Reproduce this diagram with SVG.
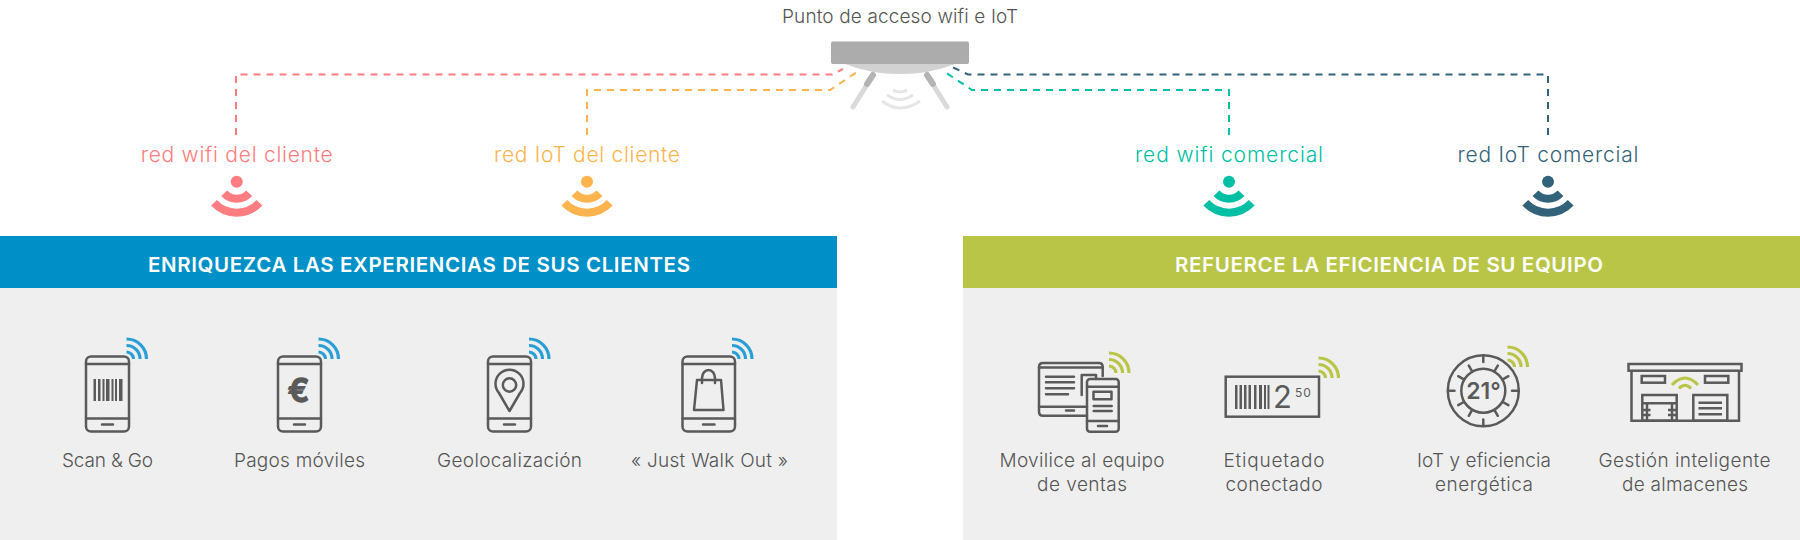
<svg xmlns="http://www.w3.org/2000/svg" width="1800" height="540" viewBox="0 0 1800 540">
<style>
text{font-family:Inter,"Open Sans","Liberation Sans",sans-serif;text-anchor:middle}
.l{font-size:19px;font-weight:300;fill:#555}
.n{font-size:21px;font-weight:300}
.h{font-size:20.500px;font-weight:600;fill:#fff}
.i{fill:none;stroke:#5a5a5a;stroke-width:2.5;stroke-linecap:round;stroke-linejoin:round}
.b{fill:none;stroke:#5a5a5a;stroke-width:2.5}
.d{fill:none;stroke-width:2;stroke-dasharray:7 6}
.wb{fill:none;stroke:#2a9fd6;stroke-width:3.200}
.wg{fill:none;stroke:#b9c547;stroke-width:3.200}
.ws{fill:none;stroke-width:8}
.g{fill:#5a5a5a;font-weight:600}
</style>
<defs>
<g id="phone">
<rect x="-21.5" y="-37" width="43" height="75" rx="5" class="i"/>
<path d="M-21.5-29.5H21.5M-21.5 25H21.5M-5.5 31H5.5" class="i"/>
</g>
<g id="wifi"><path d="M0-20A20 20 0 0 1 20 0M0-13.500A13.500 13.500 0 0 1 13.500 0M0-7A7 7 0 0 1 7 0"/></g>
<g id="sig">
<circle cx="0" cy="0" r="6"/>
<path class="ws" d="M-12.500 11.600A17 17 0 0 0 12.500 11.600M-22.700 21.100A31 31 0 0 0 22.700 21.100" style="stroke:inherit"/>
</g>
</defs>

<rect x="0" y="236" width="837" height="52" fill="#0090c8"/>
<rect x="0" y="288" width="837" height="252" fill="#efefef"/>
<rect x="963" y="236" width="837" height="52" fill="#b9c547"/>
<rect x="963" y="288" width="837" height="252" fill="#efefef"/>

<g id="connectors">
<path class="d" stroke="#ff7d80" d="M236 135V74.500H832L843 69"/>
<path class="d" stroke="#fdb44e" d="M587 135V90H830L860 70"/>
<path class="d" stroke="#00bfa5" d="M1229 135V90H972L942 70"/>
<path class="d" stroke="#33637a" d="M1548 135V74.500H968L952 67"/>
</g>

<g id="ap">
<text class="l" x="900" y="23" textLength="236">Punto de acceso wifi e IoT</text>
<path d="M845 64H955Q930 74 900 74T845 64Z" fill="#d2d2d2"/>
<rect x="831" y="41.500" width="138" height="22.500" rx="2" fill="#acacac"/>
<path d="M873 75L853 107M927 75L947 107" stroke="#dadada" stroke-width="5" stroke-linecap="round" fill="none"/>
<path d="M873 75L867 84M927 75L933 84" stroke="#b4b4b4" stroke-width="6" stroke-linecap="round" fill="none"/>
<path d="M893 90Q900 94 907 90M887 95Q900 104 913 95M882 101Q900 115 920 101" fill="none" stroke="#e6e6e6" stroke-width="3"/>
</g>

<g id="net-wifi-cliente" fill="#ff7d80" stroke="#ff7d80">
<text class="n" x="236.700" y="161.500" textLength="192" stroke="none">red wifi del cliente</text>
<use href="#sig" x="236.700" y="181.700" stroke-width="0"/>
</g>
<g id="net-iot-cliente" fill="#fdb44e" stroke="#fdb44e">
<text class="n" x="587" y="161.500" textLength="186" stroke="none">red IoT del cliente</text>
<use href="#sig" x="587" y="181.700" stroke-width="0"/>
</g>
<g id="net-wifi-comercial" fill="#00bfa5" stroke="#00bfa5">
<text class="n" x="1229" y="161.500" textLength="188" stroke="none">red wifi comercial</text>
<use href="#sig" x="1229" y="181.700" stroke-width="0"/>
</g>
<g id="net-iot-comercial" fill="#33637a" stroke="#33637a">
<text class="n" x="1548" y="161.500" textLength="181" stroke="none">red IoT comercial</text>
<use href="#sig" x="1548" y="181.700" stroke-width="0"/>
</g>

<g id="hdr-left"><text class="h" x="419" y="272" textLength="542">ENRIQUEZCA LAS EXPERIENCIAS DE SUS CLIENTES</text></g>
<g id="hdr-right"><text class="h" x="1389" y="272" textLength="428">REFUERCE LA EFICIENCIA DE SU EQUIPO</text></g>

<g id="scan">
<use href="#phone" x="107.500" y="393.500"/>
<use href="#wifi" class="wb" x="126.500" y="359"/>
<g fill="#5a5a5a"><rect x="93.500" y="379" width="2.500" height="22"/><rect x="98" y="379" width="2.500" height="22"/><rect x="102.500" y="379" width="2" height="22"/><rect x="106" y="379" width="3.500" height="22"/><rect x="111.500" y="379" width="2" height="22"/><rect x="115" y="379" width="2" height="22"/><rect x="119" y="379" width="3.500" height="22"/></g>
<text class="l" x="107.500" y="466.500" textLength="91">Scan &amp; Go</text>
</g>
<g id="pagos">
<use href="#phone" x="299.500" y="393.500"/>
<use href="#wifi" class="wb" x="318.500" y="359"/>
<text class="g" x="298.500" y="402" font-size="32" stroke="#5a5a5a" stroke-width="1.300">€</text>
<text class="l" x="299.500" y="466.500" textLength="131">Pagos móviles</text>
</g>
<g id="geo">
<use href="#phone" x="509.500" y="393.500"/>
<use href="#wifi" class="wb" x="529" y="359"/>
<path class="i" d="M509.500 411L499 393A14 14 0 1 1 520 393Z"/>
<circle class="i" cx="509.500" cy="385" r="6.700"/>
<text class="l" x="509.500" y="466.500" textLength="145">Geolocalización</text>
</g>
<g id="walk">
<rect x="682.500" y="356.500" width="52.500" height="75" rx="5" class="i"/>
<path d="M682.500 364H735M682.500 418.500H735M703 424.500H714.500" class="i"/>
<use href="#wifi" class="wb" x="732" y="359"/>
<path class="i" d="M697 380H721L723.500 410H694ZM702 383V378A6.500 8 0 0 1 715 378V383"/>
<text class="l" x="709.500" y="466.500" textLength="157">« Just Walk Out »</text>
</g>

<g id="movilice">
<path class="i" d="M1087 415.700H1043Q1039 415.700 1039 411.700V367Q1039 363 1043 363H1099Q1102.700 363 1102.700 367V376"/>
<path class="i" d="M1039 367.500H1102.700M1039 406.700H1087M1066 410.500H1074M1046 376.700H1074M1046 382.300H1074M1046 388.300H1074M1046 394.300H1068M1081.700 395V375H1096V379"/>
<rect class="i" x="1087" y="379" width="31.700" height="52.700" rx="3"/>
<path class="i" d="M1087 386.700H1118.700M1087 421H1118.700M1098 426H1107M1093.700 406H1111.700M1093.700 411H1111.700"/>
<rect class="i" x="1093.500" y="391.700" width="18" height="7.500"/>
<use href="#wifi" class="wg" x="1109" y="373"/>
<text class="l" x="1082" y="466.500" textLength="165">Movilice al equipo</text>
<text class="l" x="1082" y="491" textLength="90">de ventas</text>
</g>
<g id="etiquetado">
<rect class="b" x="1225.700" y="376.700" width="93.300" height="40"/>
<g fill="#5a5a5a"><rect x="1235" y="385" width="2.500" height="24"/><rect x="1239.500" y="385" width="2.500" height="24"/><rect x="1244" y="385" width="2.500" height="24"/><rect x="1248.500" y="385" width="2.500" height="24"/><rect x="1254" y="385" width="2.500" height="24"/><rect x="1259" y="385" width="3" height="24"/><rect x="1264" y="385" width="2" height="24"/><rect x="1267.500" y="385" width="2" height="24"/></g>
<text x="1282.500" y="408" font-size="31" fill="#5a5a5a">2</text>
<text x="1303.500" y="397" font-size="12" fill="#5a5a5a" letter-spacing="1">50</text>
<use href="#wifi" class="wg" x="1318.500" y="378"/>
<text class="l" x="1274" y="466.500" textLength="101">Etiquetado</text>
<text class="l" x="1274" y="491" textLength="97">conectado</text>
</g>
<g id="iot">
<circle class="i" cx="1483.300" cy="390.700" r="35.500"/>
<circle class="i" cx="1483.300" cy="390.700" r="22"/>
<path class="i" d="M1483.300 355.500V362M1483.300 419.500V426M1448 390.700H1454.500M1512 390.700H1518.500M1497.800 365.600L1494.500 371.200M1472 410.200L1468.800 415.800M1458.200 376.200L1463.800 379.400M1502.800 402L1508.400 405.200M1468.800 365.600L1472 371.200M1494.500 410.200L1497.800 415.800M1458.200 405.200L1463.800 402M1502.800 379.400L1508.400 376.200"/>
<text class="g" x="1483.500" y="399" font-size="23">21°</text>
<use href="#wifi" class="wg" x="1507.500" y="367"/>
<text class="l" x="1484" y="466.500" textLength="134">IoT y eficiencia</text>
<text class="l" x="1484" y="491" textLength="98">energética</text>
</g>
<g id="gestion">
<rect class="b" x="1628.500" y="364" width="113" height="6.700"/>
<path class="b" d="M1631.500 370.700V420.700H1739V370.700"/>
<rect class="b" x="1641.700" y="376" width="23.300" height="6.700"/>
<rect class="b" x="1705" y="376" width="23.300" height="6.700"/>
<path class="wg" d="M1672 385Q1685 371 1698 385M1679 388.500Q1685 382 1691 388.500"/>
<rect class="b" x="1642.300" y="395" width="34.400" height="25.700"/>
<path class="b" d="M1642.300 403.300H1676.700M1647 403.300V420.700M1672 403.300V420.700M1643 410H1650.500M1668 410H1676M1643 415H1650.500M1668 415H1676"/>
<rect class="b" x="1693.300" y="395" width="34" height="25.700"/>
<path class="b" d="M1698.500 402.700H1722M1698.500 408.300H1722M1698.500 414.300H1722"/>
<text class="l" x="1684.500" y="466.500" textLength="172">Gestión inteligente</text>
<text class="l" x="1685" y="491" textLength="126">de almacenes</text>
</g>
</svg>
